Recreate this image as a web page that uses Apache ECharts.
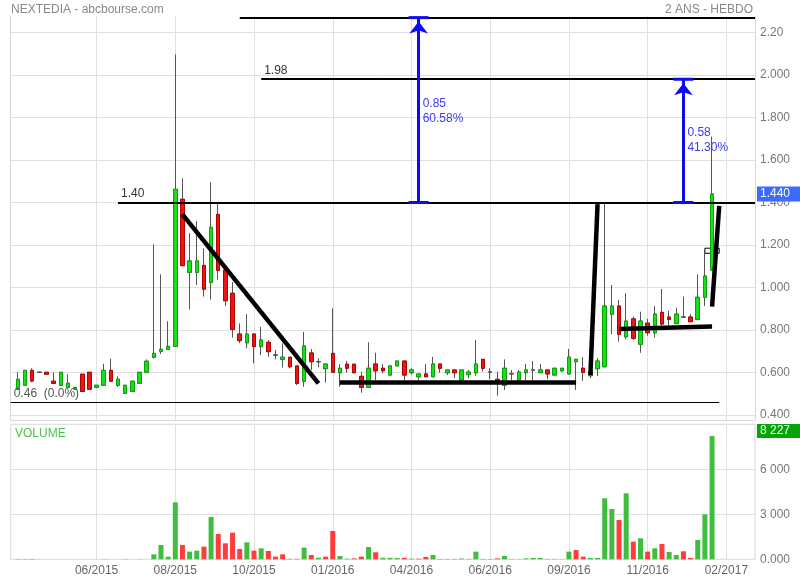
<!DOCTYPE html>
<html><head><meta charset="utf-8">
<script src="https://cdn.jsdelivr.net/npm/echarts@6/dist/echarts.min.js"></script>
<style>html,body{margin:0;padding:0;background:#fff}#c{width:800px;height:580px}</style>
</head><body><div id="c"></div>
<script>
// ---- weekly data (week 0 .. 97) ----
const opens  = [0.521,0.540,0.610,0.601,0.601,0.559,0.540,0.530,0.521,0.592,0.601,0.530,0.540,0.610,0.540,0.502,0.511,0.549,0.601,0.672,
                0.700,0.709,0.723,1.415,1.071,1.071,1.104,1.024,1.344,1.082,0.973,0.781,0.740,0.781,0.722,0.742,0.682,0.662,0.672,0.631,
                0.559,0.692,0.651,0.618,0.690,0.599,0.639,0.639,0.582,0.530,0.640,0.620,0.588,0.631,0.654,0.599,0.580,0.593,0.580,0.640,
                0.599,0.612,0.565,0.590,0.599,0.662,0.602,0.568,0.540,0.594,0.565,0.599,0.612,0.599,0.612,0.588,0.608,0.593,0.651,0.620,
                0.585,0.618,0.627,0.874,0.913,0.768,0.852,0.733,0.832,0.787,0.883,0.861,0.830,0.861,0.861,0.850,0.954,1.082];
const closes = [0.568,0.610,0.560,0.601,0.592,0.549,0.601,0.549,0.530,0.511,0.521,0.540,0.610,0.559,0.568,0.540,0.559,0.601,0.653,0.690,
                0.709,0.723,1.462,1.103,1.125,1.125,0.992,1.283,1.081,0.938,0.803,0.750,0.781,0.722,0.753,0.698,0.682,0.672,0.627,0.549,
                0.725,0.651,0.651,0.640,0.601,0.620,0.620,0.599,0.530,0.620,0.608,0.608,0.631,0.654,0.588,0.612,0.593,0.580,0.640,0.620,
                0.612,0.599,0.612,0.602,0.640,0.620,0.602,0.559,0.620,0.594,0.602,0.612,0.612,0.612,0.593,0.620,0.620,0.672,0.662,0.601,
                0.605,0.654,0.913,0.913,0.780,0.842,0.761,0.842,0.787,0.875,0.828,0.850,0.875,0.861,0.839,0.954,1.054,1.440];
const lows   = [0.518,0.540,0.554,0.601,0.592,0.546,0.540,0.524,0.521,0.511,0.521,0.526,0.540,0.559,0.532,0.502,0.511,0.549,0.601,0.666,
                0.687,0.709,0.723,1.100,0.896,1.012,0.957,0.943,1.037,0.914,0.764,0.738,0.714,0.643,0.682,0.674,0.662,0.624,0.620,0.541,
                0.533,0.612,0.624,0.552,0.601,0.533,0.599,0.599,0.505,0.530,0.565,0.596,0.588,0.631,0.565,0.590,0.565,0.580,0.580,0.599,
                0.588,0.574,0.565,0.573,0.585,0.605,0.568,0.491,0.518,0.565,0.565,0.565,0.565,0.599,0.568,0.588,0.604,0.593,0.518,0.561,
                0.573,0.584,0.627,0.781,0.745,0.756,0.753,0.693,0.773,0.764,0.820,0.820,0.830,0.861,0.839,0.845,0.913,1.082];
const highs  = [0.601,0.610,0.620,0.601,0.601,0.601,0.601,0.592,0.530,0.592,0.601,0.540,0.641,0.665,0.582,0.540,0.559,0.601,0.662,1.203,
                1.062,0.841,2.097,1.514,1.256,1.313,1.184,1.495,1.401,1.082,1.026,0.831,0.875,0.781,0.815,0.753,0.706,0.737,0.672,0.631,
                0.791,0.711,0.667,0.640,0.902,0.639,0.654,0.639,0.604,0.742,0.693,0.639,0.631,0.654,0.654,0.620,0.593,0.640,0.674,0.640,
                0.612,0.612,0.612,0.612,0.753,0.662,0.620,0.604,0.662,0.612,0.612,0.640,0.654,0.640,0.612,0.620,0.620,0.711,0.662,0.672,
                0.610,0.667,1.396,1.012,0.941,0.973,0.863,0.886,0.852,0.913,0.993,0.891,0.905,0.957,0.875,1.062,1.180,1.710];
const volumes = [20,20,20,0,0,0,0,0,0,0,0,0,10,0,0,10,0,10,0,333,
                 953,178,3800,953,511,578,844,2822,1689,1067,1778,689,1133,578,733,556,178,333,30,30,
                 778,289,100,178,1889,222,40,60,178,822,467,100,100,80,100,40,40,155,289,20,
                 20,20,50,20,511,20,20,60,220,15,15,60,90,90,20,20,10,511,622,178,
                 90,90,4067,3356,2622,4400,1178,1400,511,733,1022,489,289,533,89,1289,3000,8227];

// month labels on the time axis, and the week where each one sits
const tickWeeks  = [11,22,33,44,55,66,77,88,99];
const tickLabels = ['06/2015','08/2015','10/2015','01/2016','04/2016','06/2016','09/2016','11/2016','02/2017'];

// hand-drawn annotations (week index, price)
const levels   = [{from:14, value:1.40, text:'1.40'}, {from:34, value:1.98, text:'1.98'}];
const topLevel = {from:31, value:2.27};
const baseLevel = {from:-1, to:98, value:0.46, text:'0.46  (0.0%)'};
const trendLines = [[23,1.344,42,0.549],[45,0.552,78,0.552],[80,0.588,81,1.392],[84,0.805,97,0.816],[97,0.910,98,1.384]];
const boxMark = [96,1.185,98,1.161];
const arrows = [{week:56, from:1.40, to:2.27, textAt:1.828, text:'0.85\n60.58%'},
                {week:93, from:1.40, to:1.98, textAt:1.692, text:'0.58\n41.30%'}];

// ---- build ----
const FONT = 'Liberation Sans, Arial, sans-serif';
const GREEN = '#3fbd3f', RED = '#ff3d3d', BLUE = '#0c0cf0', GRID = '#e0e0e0';
const NSLOT = 105;
const categories = Array.from({length:NSLOT},(_,i)=>'S'+(i-1));
const P = k => k + 1;
const LAST = NSLOT - 1;
const tickPos = tickWeeks.map(P);
const isTick = i => tickPos.indexOf(i) >= 0;
const labelAt = i => { const j = tickPos.indexOf(i); return j >= 0 ? tickLabels[j] : ''; };

const empty = ['-','-','-','-'];
const fullCandles = [empty].concat(opens.map((o,k)=>[o, closes[k], lows[k], highs[k]]));
const bodies = [empty].concat(opens.map((o,k)=>[o, closes[k], Math.min(o,closes[k]), Math.max(o,closes[k])]));
const volData = ['-'].concat(volumes.map((v,k)=>({value:v, itemStyle:{color:(k===0 || closes[k] >= closes[k-1]) ? GREEN : RED}})));

const PMIN = 0.3765, PMAX = 2.2776;
const fmtVol = v => String(v).replace(/\B(?=(\d{3})+(?!\d))/g,' ');
const solid = (color, width) => ({color:color, width:width, type:'solid'});

const blackLines = [];
levels.forEach(l => blackLines.push([
  {coord:[P(l.from), l.value], lineStyle:solid('#000',2),
   label:{show:true, position:'insideStartTop', formatter:l.text, color:'#333', fontSize:12, fontFamily:FONT, distance:3}},
  {coord:[LAST, l.value]}]));
blackLines.push([{coord:[P(topLevel.from), topLevel.value], lineStyle:solid('#000',2)}, {coord:[LAST, topLevel.value]}]);
blackLines.push([{coord:[P(baseLevel.from), baseLevel.value], lineStyle:solid('#000',1),
   label:{show:true, position:'insideStartTop', formatter:baseLevel.text, color:'#555', fontSize:12, fontFamily:FONT, distance:3}},
  {coord:[P(baseLevel.to), baseLevel.value]}]);
trendLines.forEach(t => blackLines.push([{coord:[P(t[0]), t[1]], lineStyle:solid('#000',4.5)}, {coord:[P(t[2]), t[3]]}]));

const arrowLines = arrows.map(a => [
  {coord:[P(a.week), a.from], lineStyle:solid(BLUE,3), symbol:'none'},
  {coord:[P(a.week), a.to], symbol:'arrow', symbolSize:[14,12], symbolOffset:[0,4]}]);
const arrowPoints = [];
arrows.forEach(a => {
  arrowPoints.push({coord:[P(a.week), a.from], symbol:'rect', symbolSize:[20,3], itemStyle:{color:BLUE}});
  arrowPoints.push({coord:[P(a.week), a.to], symbol:'rect', symbolSize:[20,3], itemStyle:{color:BLUE}});
  arrowPoints.push({coord:[P(a.week), a.textAt], symbol:'circle', symbolSize:0,
    label:{show:true, position:'right', distance:4, formatter:a.text, color:'#3a3af2', fontSize:12, lineHeight:15, align:'left', fontFamily:FONT}});
});
const lastClose = closes[closes.length-1];
arrowPoints.push({coord:[LAST, lastClose], symbol:'circle', symbolSize:0,
  label:{show:true, position:'right', distance:2, formatter:lastClose.toFixed(3), color:'#fff', backgroundColor:'#3d6bff',
         padding:[2,14,1,3], fontSize:12, fontFamily:FONT}});
const lastVol = volumes[volumes.length-1];

const titleStyle = c => ({fontSize:12, color:c, fontWeight:'normal', fontFamily:FONT});
const chart = echarts.init(document.getElementById('c'), null, {renderer:'canvas'});
chart.setOption({
  animation:false,
  backgroundColor:'#fff',
  textStyle:{fontFamily:FONT},
  title:[
    {text:'NEXTEDIA - abcbourse.com', left:11, top:4, padding:0, textStyle:titleStyle('#888')},
    {text:'2 ANS - HEBDO', right:47, top:4, padding:0, textStyle:titleStyle('#888')},
    {text:'VOLUME', left:15, top:428, padding:0, textStyle:titleStyle('#4cc24c')}
  ],
  grid:[
    {left:10.7, right:45, top:16, bottom:160},
    {left:10.7, right:45, top:32.5, bottom:165},
    {left:10.7, right:45, top:424.3, bottom:20.7, show:true, borderColor:'#d8d8d8', borderWidth:1}
  ],
  xAxis:[
    {gridIndex:0, type:'category', data:categories, boundaryGap:false,
     axisLine:{show:true, lineStyle:{color:'#d8d8d8'}}, axisTick:{show:false}, axisLabel:{show:false},
     splitLine:{show:true, interval:(i)=>isTick(i), lineStyle:{color:GRID}}},
    {gridIndex:1, type:'category', data:categories, boundaryGap:false, show:false},
    {gridIndex:2, type:'category', data:categories, boundaryGap:false,
     axisLine:{show:false}, axisTick:{show:false},
     axisLabel:{interval:(i)=>isTick(i), formatter:(v,i)=>labelAt(i), color:'#666', fontSize:12, margin:5, fontFamily:FONT},
     splitLine:{show:true, interval:(i)=>isTick(i), lineStyle:{color:GRID}}}
  ],
  yAxis:[
    {gridIndex:0, type:'value', min:PMIN, max:PMAX, position:'left',
     axisLine:{show:true, lineStyle:{color:'#d8d8d8'}}, axisTick:{show:false}, axisLabel:{show:false}, splitLine:{show:false}},
    {gridIndex:0, type:'value', min:PMIN, max:PMAX, position:'right',
     axisLine:{show:true, lineStyle:{color:'#d8d8d8'}}, axisTick:{show:false}, axisLabel:{show:false}, splitLine:{show:false}},
    {gridIndex:1, type:'value', min:0.4, max:2.2, interval:0.2, position:'right',
     axisLine:{show:false}, axisTick:{show:false},
     axisLabel:{color:'#777', fontSize:12, margin:5, padding:[0,0,5,0], fontFamily:FONT,
       formatter:v => Math.abs(v-2.2) < 1e-6 ? '2.20' : v.toFixed(3)},
     splitLine:{show:true, lineStyle:{color:GRID}}},
    {gridIndex:2, type:'value', min:0, max:9000, interval:3000, position:'right',
     axisLine:{show:false}, axisTick:{show:false},
     axisLabel:{color:'#777', fontSize:12, margin:5, padding:[0,0,5,0], fontFamily:FONT,
       formatter:v => v === 0 ? '0.000' : (v >= 9000 ? '' : fmtVol(v))},
     splitLine:{show:true, lineStyle:{color:GRID}}}
  ],
  series:[
    {type:'candlestick', name:'wicks', xAxisIndex:0, yAxisIndex:0, data:fullCandles, barWidth:4, z:2,
     itemStyle:{color:'rgba(0,0,0,0)', color0:'rgba(0,0,0,0)', borderColor:'#555', borderColor0:'#555', borderColorDoji:'#555', borderWidth:1},
     markLine:{silent:true, symbol:'none', animation:false, data:blackLines},
     markArea:{silent:true, itemStyle:{color:'rgba(0,0,0,0)', borderColor:'#000', borderWidth:1}, label:{show:false},
       data:[[{coord:[P(boxMark[0]), boxMark[1]]},{coord:[P(boxMark[2]), boxMark[3]]}]]}},
    {type:'candlestick', name:'bodies', xAxisIndex:0, yAxisIndex:0, data:bodies, barWidth:4, z:3,
     itemStyle:{color:'#16e016', color0:'#ee1414', borderColor:'#0d9f0d', borderColor0:'#b30000', borderColorDoji:'#555', borderWidth:1},
     markLine:{silent:true, animation:false, data:arrowLines},
     markPoint:{silent:true, animation:false, label:{show:false}, data:arrowPoints}},
    {type:'bar', name:'volume', xAxisIndex:2, yAxisIndex:3, data:volData, barWidth:5,
     markPoint:{silent:true, animation:false, data:[{coord:[LAST, lastVol], symbol:'circle', symbolSize:0,
       label:{show:true, position:'right', distance:2, offset:[0,-5], formatter:fmtVol(lastVol), color:'#fff', backgroundColor:'#05a505',
              padding:[1,14,1,3], fontSize:12, fontFamily:FONT}}]}}
  ]
});
</script></body></html>
